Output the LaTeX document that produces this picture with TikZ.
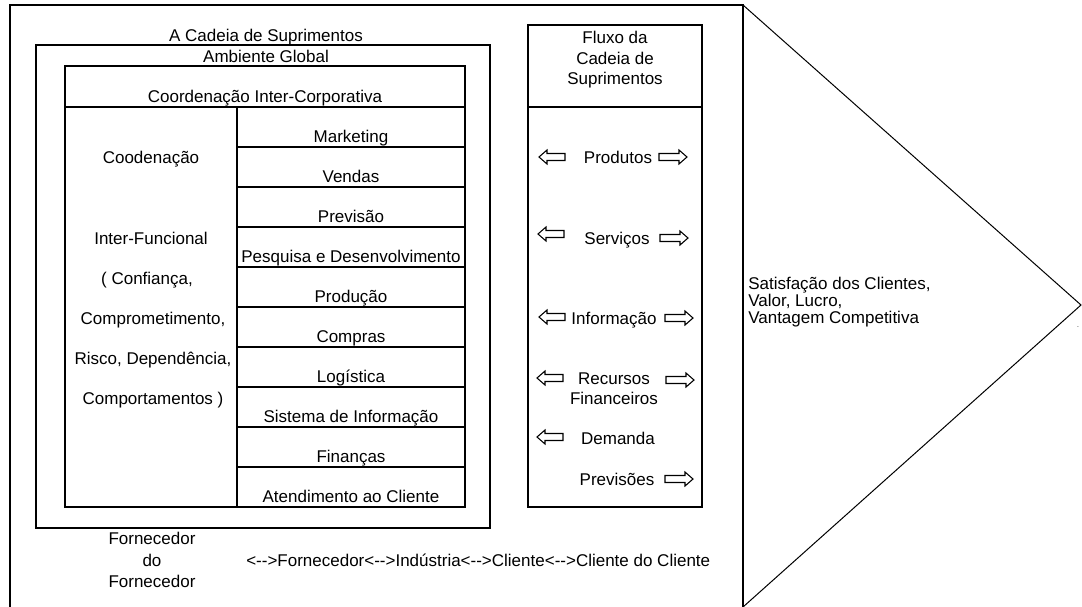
\documentclass[tikz,border=0pt]{standalone}
\usepackage{fontspec}
\setmainfont{Liberation Sans}[Ligatures=TeXOff]
\begin{document}
\begin{tikzpicture}[x=0.75pt,y=-0.75pt,
  boxline/.style={line width=1.5pt},
  thinline/.style={line width=0.75pt},
  lbl/.style={inner sep=0pt, anchor=base, font=\fontsize{12.75}{15}\selectfont},
  lbll/.style={lbl, anchor=base west},
  larrow/.pic={\draw[line width=0.8pt, fill=white, line join=miter] (0,0) -- (8,-7) -- (8,-3.5) -- (26,-3.5) -- (26,3.5) -- (8,3.5) -- (8,7) -- cycle;},
  rarrow/.pic={\draw[line width=0.8pt, fill=white, line join=miter] (0,0) -- (-8,-7) -- (-8,-3.5) -- (-28,-3.5) -- (-28,3.5) -- (-8,3.5) -- (-8,7) -- cycle;}
]
\useasboundingbox (0,0) rectangle (1082,607);
% outer frame and triangle
\draw[boxline] (10,607) -- (10,5) -- (743,5) -- (743,607);
\draw[thinline] (743,5) -- (1081,305) -- (743,607);
% ambiente global box
\draw[boxline] (36,45) rectangle (490,528);
% inner box
\draw[boxline] (65,66) rectangle (465,507);
\draw[boxline] (65,107) -- (465,107);
\draw[boxline] (237,107) -- (237,507);
\foreach \y in {147,187,...,467} \draw[boxline] (237,\y) -- (465,\y);
% flow box
\draw[boxline] (528,25) rectangle (702,507);
\draw[boxline] (528,107) -- (702,107);

% titles
\node[lbl] (cadeia) at (266,41) {A Cadeia de Suprimentos};
\node[lbl] (ambiente) at (266,62) {Ambiente Global};
\node[lbl] (intercorp) at (265,102) {Coordenação Inter-Corporativa};

% function rows
\foreach \t [count=\i] in {Marketing,Vendas,Previsão,Pesquisa e Desenvolvimento,Produção,Compras,Logística,Sistema de Informação,Finanças,Atendimento ao Cliente}
  \node[lbl] (row\i) at (351,{102+40*\i}) {\t};

% left column
\node[lbl] (coord) at (151,163) {Coodenação};
\node[lbl] (interf) at (151,244) {Inter-Funcional};
\node[lbl] (confianca) at (147,284) {( Confiança,};
\node[lbl] (compr) at (153,324) {Comprometimento,};
\node[lbl] (risco) at (153,364) {Risco, Dependência,};
\node[lbl] (comport) at (153,404) {Comportamentos )};

% flow header
\node[lbl] (fluxo1) at (615,43) {Fluxo da};
\node[lbl] (fluxo2) at (615,64) {Cadeia de};
\node[lbl] (fluxo3) at (615,84) {Suprimentos};

% flow items
\node[lbl] (produtos) at (618,163) {Produtos};
\pic at (539,157) {larrow};
\pic at (687,157) {rarrow};
\node[lbl] (servicos) at (617,244) {Serviços};
\pic at (538,234) {larrow};
\pic at (688,238) {rarrow};
\node[lbl] (informacao) at (614,324) {Informação};
\pic at (539,317) {larrow};
\pic at (693,318) {rarrow};
\node[lbl] (recursos1) at (614,384) {Recursos};
\node[lbl] (recursos2) at (614,404) {Financeiros};
\pic at (537,378) {larrow};
\pic at (694,380) {rarrow};
\node[lbl] (demanda) at (618,444) {Demanda};
\pic at (537,437) {larrow};
\node[lbl] (previsoes) at (617,485) {Previsões};
\pic at (693,479) {rarrow};

% right text
\node[lbll] (sat1) at (748,289) {Satisfação dos Clientes,};
\node[lbll] (sat2) at (748,306) {Valor, Lucro,};
\node[lbll] (sat3) at (748,323) {Vantagem Competitiva};
\node[inner sep=0pt, font=\fontsize{5}{6}\selectfont] (dot) at (1078,327) {.};

% bottom text
\node[lbl] (forn1) at (152,544) {Fornecedor};
\node[lbl] (forn2) at (152,566) {do};
\node[lbl] (forn3) at (152,587) {Fornecedor};
\node[lbll] (chain) at (246,566) {<-{}->Fornecedor<-{}->Indústria<-{}->Cliente<-{}->Cliente do Cliente};
\end{tikzpicture}
\end{document}
